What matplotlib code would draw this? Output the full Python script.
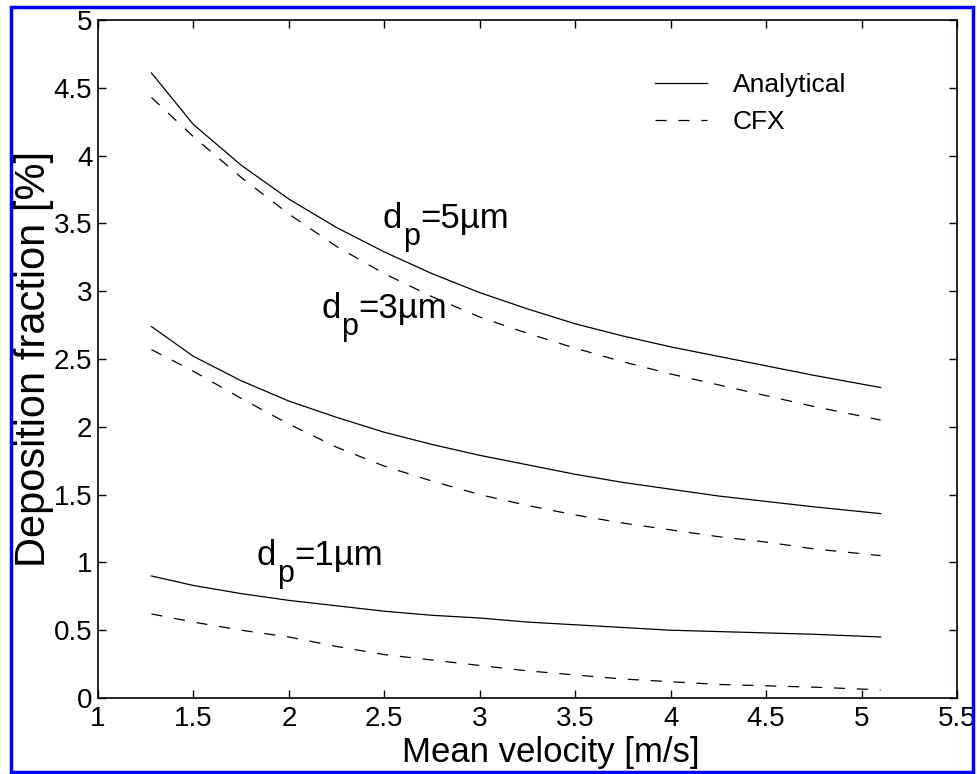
import matplotlib
matplotlib.use("Agg")
import matplotlib.pyplot as plt
from matplotlib.patches import Rectangle

plt.rcParams["font.family"] = ["Liberation Sans", "DejaVu Sans"]
plt.rcParams["lines.scale_dashes"] = False

velocity = [1.28, 1.5, 1.75, 2.0, 2.25, 2.5, 2.75, 3.0, 3.25, 3.5, 3.75, 4.0, 4.25, 4.5, 4.75, 5.1]

analytical_5um = [4.61, 4.23, 3.93, 3.68, 3.47, 3.29, 3.13, 2.99, 2.87, 2.76, 2.67, 2.59, 2.52, 2.45, 2.38, 2.29]
cfx_5um = [4.43, 4.14, 3.84, 3.57, 3.33, 3.13, 2.96, 2.81, 2.69, 2.58, 2.48, 2.39, 2.31, 2.23, 2.15, 2.05]

analytical_3um = [2.74, 2.52, 2.34, 2.19, 2.07, 1.96, 1.87, 1.79, 1.72, 1.65, 1.59, 1.54, 1.49, 1.45, 1.41, 1.36]
cfx_3um = [2.57, 2.41, 2.21, 2.02, 1.85, 1.71, 1.60, 1.50, 1.42, 1.35, 1.29, 1.24, 1.19, 1.15, 1.10, 1.05]

analytical_1um = [0.90, 0.83, 0.77, 0.72, 0.68, 0.64, 0.61, 0.59, 0.56, 0.54, 0.52, 0.50, 0.49, 0.48, 0.47, 0.45]
cfx_1um = [0.62, 0.56, 0.50, 0.45, 0.38, 0.32, 0.28, 0.24, 0.20, 0.17, 0.14, 0.12, 0.10, 0.09, 0.08, 0.06]

x_ticks = [1, 1.5, 2, 2.5, 3, 3.5, 4, 4.5, 5, 5.5]
x_tick_labels = ["1", "1.5", "2", "2.5", "3", "3.5", "4", "4.5", "5", "5.5"]
y_ticks = [0, 0.5, 1, 1.5, 2, 2.5, 3, 3.5, 4, 4.5, 5]
y_tick_labels = ["0", "0.5", "1", "1.5", "2", "2.5", "3", "3.5", "4", "4.5", "5"]

# (x, y baseline, diameter) of the d_p labels
labels = [(2.493, 3.466, "5"), (2.17, 2.80, "3"), (1.832, 0.98, "1")]

fig = plt.figure(figsize=(9.77, 7.74), dpi=100)
ax = fig.add_axes([0.1003, 0.0982, 0.8792, 0.8758])

lw = 0.9
dash = (0, (8, 8.5))
ax.plot(velocity, analytical_5um, color="black", lw=lw, label="Analytical")
ax.plot(velocity, cfx_5um, color="black", lw=lw, ls=dash, label="CFX")
ax.plot(velocity, analytical_3um, color="black", lw=lw)
ax.plot(velocity, cfx_3um, color="black", lw=lw, ls=dash)
ax.plot(velocity, analytical_1um, color="black", lw=lw)
ax.plot(velocity, cfx_1um, color="black", lw=lw, ls=dash)

for x, y, d in labels:
    t1 = ax.text(x, y, "d", fontsize=25, ha="left", va="baseline")
    t2 = ax.annotate("p", xy=(1, y), xycoords=(t1, "data"), xytext=(0.3, -12),
                     textcoords="offset points", fontsize=22, ha="left", va="baseline")
    ax.annotate("=" + d + "\u00b5m", xy=(1, y), xycoords=(t2, "data"), xytext=(0.5, 0),
                textcoords="offset points", fontsize=25, ha="left", va="baseline")

ax.set_xlim(1, 5.5)
ax.set_ylim(0, 5)
ax.set_xticks(x_ticks)
ax.set_xticklabels(x_tick_labels)
ax.set_yticks(y_ticks)
ax.set_yticklabels(y_tick_labels)
ax.tick_params(direction="in", length=6, width=1.0, top=True, right=True, labelsize=20)
ax.tick_params(axis="x", pad=6)
ax.tick_params(axis="y", pad=4)
for s in ax.spines.values():
    s.set_linewidth(1.2)

ax.set_xlabel("Mean velocity [m/s]", fontsize=25)
ax.xaxis.set_label_coords(0.527, -0.08, transform=ax.transAxes)
ax.xaxis.label.set_va("center")
ax.set_ylabel("Deposition fraction [%]", fontsize=30, labelpad=0)

ax.legend(loc="upper left", bbox_to_anchor=(0.648, 0.922), frameon=False, fontsize=19,
          handlelength=2.0, handletextpad=0.95, labelspacing=0.5, borderpad=0, borderaxespad=0)

fig.patches.append(Rectangle((0.0112, 0.0025), 0.9845, 0.9885, transform=fig.transFigure,
                             fill=False, edgecolor="#0000ff", lw=2.5))

fig.savefig("out.png", dpi=100)
